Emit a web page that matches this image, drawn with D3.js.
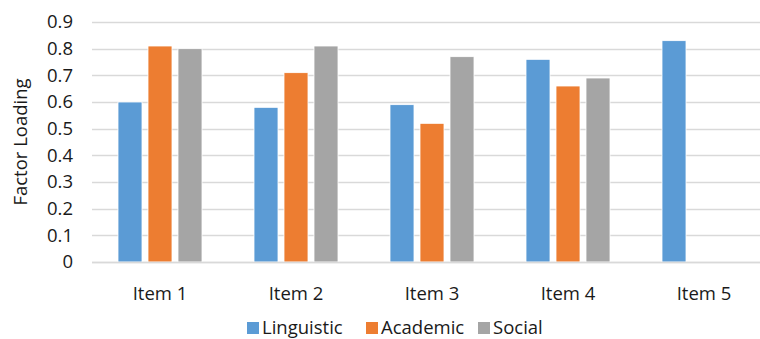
<!DOCTYPE html>
<html>
<head>
<meta charset="utf-8">
<script src="https://cdn.jsdelivr.net/npm/d3@7"></script>
<style>
  body { margin: 0; background: #fff; }
  text { font-family: "Open Sans", "Noto Sans", sans-serif; fill: #1a1a1a; }
</style>
</head>
<body>
<div id="chart"></div>
<script>
var items = ["Item 1", "Item 2", "Item 3", "Item 4", "Item 5"]
var seriesNames = ["Linguistic", "Academic", "Social"]
var linguistic = [0.60, 0.58, 0.59, 0.76, 0.83]
var academic = [0.81, 0.71, 0.52, 0.66, null]
var social = [0.80, 0.81, 0.77, 0.69, null]
var yTicks = [0, 0.1, 0.2, 0.3, 0.4, 0.5, 0.6, 0.7, 0.8, 0.9]
var colors = ["#5b9bd5", "#ed7d31", "#a5a5a5"]

var seriesValues = [linguistic, academic, social]

var width = 760, height = 339
var fs = "18.5px"

var svg = d3.select("#chart")
  .append("svg")
  .attr("width", width)
  .attr("height", height)

// plot area runs past the right edge, like the cropped original
var x = d3.scaleBand()
  .domain(items)
  .range([92, 772])

var xInner = d3.scaleBand()
  .domain(seriesNames)
  .range([26, 110])
  .paddingInner(0.2)

var y = d3.scaleLinear()
  .domain([0, 0.9])
  .range([262, 22])

// gridlines
svg.append("g")
  .selectAll("line")
  .data(yTicks)
  .enter()
  .append("line")
  .attr("x1", 92)
  .attr("x2", width)
  .attr("y1", function (d) { return Math.round(y(d)) + 0.5 })
  .attr("y2", function (d) { return Math.round(y(d)) + 0.5 })
  .attr("stroke", "#d9d9d9")
  .attr("stroke-width", 1.3)

// y axis labels
var yAxis = svg.append("g")
  .attr("transform", "translate(80,0)")
  .call(d3.axisLeft(y).tickValues(yTicks).tickSize(0).tickPadding(7)
    .tickFormat(function (d) { return d === 0 ? "0" : d3.format(".1f")(d) }))
yAxis.select(".domain").remove()
yAxis.selectAll("text")
  .style("font-size", fs)
  .style("font-family", "'Open Sans', sans-serif")
  .attr("fill", "#1a1a1a")

// bars
var rows = []
items.forEach(function (item, i) {
  seriesNames.forEach(function (s, j) {
    if (seriesValues[j][i] != null) rows.push({ item: item, series: s, value: seriesValues[j][i], k: j })
  })
})

svg.append("g")
  .selectAll("rect")
  .data(rows)
  .enter()
  .append("rect")
  .attr("x", function (d) { return x(d.item) + xInner(d.series) })
  .attr("y", function (d) { return y(d.value) })
  .attr("width", xInner.bandwidth())
  .attr("height", function (d) { return y(0) - y(d.value) })
  .attr("fill", function (d) { return colors[d.k] })
  .attr("stroke", "#fff")
  .attr("stroke-width", 0.8)

// x axis labels
var xAxis = svg.append("g")
  .attr("transform", "translate(0,262)")
  .call(d3.axisBottom(x).tickSize(0).tickPadding(25))
xAxis.select(".domain")
  .attr("d", "M92,0.5H" + width)
  .attr("stroke", "#d9d9d9")
  .attr("stroke-width", 1.3)
xAxis.selectAll("text")
  .style("font-size", fs)
  .style("font-family", "'Open Sans', sans-serif")
  .attr("fill", "#1a1a1a")

// y title
svg.append("text")
  .attr("transform", "translate(27,142) rotate(-90)")
  .attr("text-anchor", "middle")
  .style("font-size", fs)
  .text("Factor Loading")

// legend
var legendX = [247, 366, 478]
var legend = svg.append("g")
  .selectAll("g")
  .data(seriesNames)
  .enter()
  .append("g")
  .attr("transform", function (d, i) { return "translate(" + legendX[i] + ",322)" })
legend.append("rect")
  .attr("width", 12)
  .attr("height", 12)
  .attr("fill", function (d, i) { return colors[i] })
legend.append("text")
  .attr("x", 15)
  .attr("y", 12)
  .style("font-size", fs)
  .text(function (d) { return d })
</script>
</body>
</html>
